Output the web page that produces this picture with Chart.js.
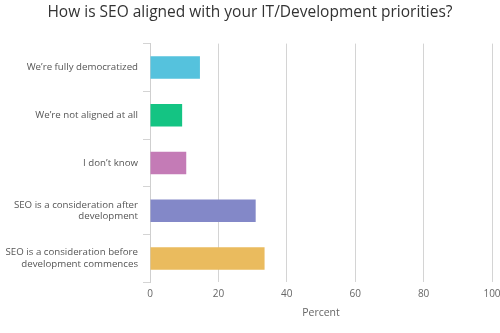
<!DOCTYPE html>
<html>
<head>
<meta charset="utf-8">
<script src="https://cdn.jsdelivr.net/npm/chart.js@4"></script>
<style>
  html, body { margin: 0; padding: 0; background: #fff; }
  #wrap { width: 500px; height: 333px; }
</style>
</head>
<body>
<div id="wrap"><canvas id="chart" width="500" height="333"></canvas></div>
<script>
// Réponses et pourcentages
const categories = [
  "We\u2019re fully democratized",
  "We\u2019re not aligned at all",
  "I don\u2019t know",
  ["SEO is a consideration after", "development"],
  ["SEO is a consideration before", "development commences"]
];
const percents = [14.6, 9.4, 10.6, 30.9, 33.5];
const barColors = ['#55c2dd', '#14c483', '#c47bb6', '#8388c8', '#eabb5e'];
const xTicks = [0, 20, 40, 60, 80, 100];

const font = "'Open Sans', 'DejaVu Sans', sans-serif";

new Chart(document.getElementById('chart').getContext('2d'), {
  type: 'bar',
  data: {
    labels: categories,
    datasets: [{
      data: percents,
      backgroundColor: barColors,
      borderWidth: 0,
      categoryPercentage: 1,
      barPercentage: 0.47
    }]
  },
  options: {
    indexAxis: 'y',
    responsive: false,
    animation: false,
    layout: { padding: { left: 0, right: 0, top: 0, bottom: 14 } },
    plugins: {
      legend: { display: false },
      tooltip: { enabled: false },
      title: {
        display: true,
        text: 'How is SEO aligned with your IT/Development priorities?',
        color: '#333',
        font: { family: font, size: 15.5, weight: 'normal' },
        padding: { top: 3, bottom: 22 }
      }
    },
    scales: {
      x: {
        min: 0,
        max: 100,
        afterBuildTicks: (scale) => { scale.ticks = xTicks.map(v => ({ value: v })); },
        afterFit: (scale) => { scale.paddingRight = 8; },
        grid: { color: '#d4d4d4', lineWidth: 1, drawTicks: false },
        border: { display: false },
        ticks: { color: '#666', font: { family: font, size: 10 }, padding: 6 },
        title: {
          display: true,
          text: 'Percent',
          color: '#666',
          font: { family: font, size: 10.5 },
          padding: { top: 0, bottom: 0 }
        }
      },
      y: {
        afterFit: (scale) => { scale.width = 150; },
        grid: { drawOnChartArea: false, color: '#d4d4d4', tickLength: 7, offset: true },
        border: { display: true, color: '#cfcfcf' },
        ticks: { color: '#555', font: { family: font, size: 9.7 }, padding: 5 }
      }
    }
  }
});
</script>
</body>
</html>
